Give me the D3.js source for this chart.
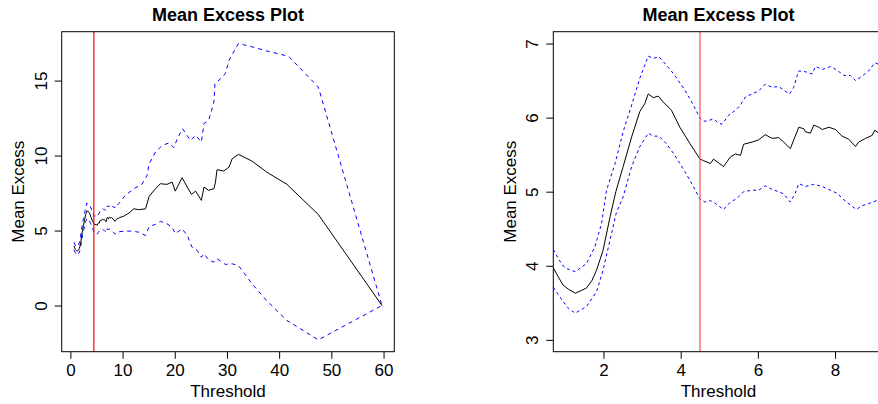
<!DOCTYPE html>
<html>
<head>
<meta charset="utf-8">
<script src="https://cdn.jsdelivr.net/npm/d3@7/dist/d3.min.js"></script>
<style>
  body { margin: 0; background: #fff; }
  svg text { font-family: "Liberation Sans", Arial, Helvetica, sans-serif; fill: #000; }
</style>
</head>
<body>
<svg id="chart" width="878" height="404"></svg>
<script>
// mean excess curve (threshold, mean excess)
const meX = [0.70,0.95,1.10,1.27,1.40,1.56,1.70,1.82,1.99,2.17,2.32,2.51,2.73,2.94,3.07,3.16,3.29,3.42,3.55,3.76,3.98,4.24,4.50,4.59,4.77,4.85,4.98,
  5.11,5.29,5.42,5.55,5.63,5.85,6.02,6.19,6.37,6.54,6.67,6.84,6.93,7.06,7.19,7.23,7.36,7.45,7.58,7.67,7.84,8.01,8.18,8.35,8.53,8.61,8.79,8.96,9.03,9.13,9.30,
  10.2,11.2,12.15,13.1,14.4,15.1,16.3,17.25,18.5,19.5,20.1,21.4,22.4,23.2,24.0,25.1,25.6,26.5,27.5,27.8,28.1,29.4,30.4,31.0,32.2,34.8,37.6,41.5,47.5,59.7];
const meY = [3.97,3.74,3.68,3.63,3.66,3.70,3.80,3.94,4.21,4.66,5.00,5.34,5.74,6.08,6.19,6.32,6.27,6.29,6.21,6.10,5.87,5.65,5.44,5.42,5.38,5.44,5.39,
  5.34,5.47,5.51,5.49,5.64,5.67,5.70,5.77,5.72,5.73,5.67,5.58,5.70,5.87,5.85,5.81,5.79,5.90,5.87,5.84,5.87,5.84,5.75,5.71,5.61,5.67,5.72,5.76,5.83,5.79,5.85,
  5.95,6.16,6.45,6.39,6.45,7.28,7.79,8.12,8.08,8.23,7.63,8.52,7.90,7.41,7.63,7.01,7.90,7.68,7.79,8.23,9.06,8.97,9.23,9.79,10.08,9.63,8.90,8.08,6.07,0.00];

// upper confidence band
const upX = [0.70,0.85,1.00,1.27,1.56,1.78,1.95,2.08,2.30,2.51,2.73,2.94,3.16,3.29,3.44,3.63,3.85,4.11,4.33,4.50,4.63,4.85,4.95,
  5.07,5.24,5.42,5.55,5.68,5.85,6.02,6.19,6.37,6.54,6.67,6.82,6.93,7.02,7.06,7.23,7.41,7.49,7.67,7.88,8.05,8.23,8.40,8.53,8.70,8.87,9.03,9.13,9.30,
  10.5,12.15,13.7,14.7,15.1,16.3,17.6,18.9,19.8,20.5,21.5,23.0,24.0,25.1,25.6,26.5,27.5,27.7,28.8,29.7,30.4,32.2,34.4,37.6,41.8,47.5,59.7];
const upY = [4.22,4.08,3.97,3.92,4.03,4.26,4.57,5.02,5.38,5.81,6.17,6.53,6.83,6.80,6.82,6.71,6.57,6.37,6.17,5.99,5.95,5.98,5.94,
  5.91,6.03,6.10,6.17,6.28,6.32,6.36,6.45,6.41,6.42,6.37,6.32,6.41,6.57,6.63,6.62,6.59,6.69,6.65,6.69,6.64,6.57,6.57,6.50,6.56,6.63,6.74,6.72,6.80,
  7.34,7.79,8.08,8.68,9.46,10.23,10.68,10.84,10.53,11.13,11.79,11.01,11.35,10.90,12.13,12.35,13.57,14.80,15.13,15.47,16.36,17.47,17.29,16.98,16.62,14.57,0.00];

// lower confidence band
const loX = [0.70,0.95,1.10,1.27,1.56,1.82,1.99,2.17,2.33,2.51,2.73,2.94,3.16,3.29,3.44,3.63,3.85,4.11,4.33,4.50,4.63,4.77,4.90,
  5.11,5.29,5.46,5.63,5.85,6.02,6.19,6.37,6.54,6.67,6.84,6.97,7.06,7.23,7.45,7.67,7.88,8.05,8.23,8.40,8.55,8.70,8.87,9.13,9.30,
  10.5,11.8,13.1,14.4,15.1,16.3,17.25,18.5,19.5,20.1,21.4,22.4,23.3,24.3,25.1,25.6,26.5,27.5,28.1,29.7,31.0,32.2,34.8,37.6,41.5,47.5,59.7];
const loY = [3.71,3.52,3.42,3.36,3.45,3.65,3.94,4.35,4.71,4.93,5.34,5.61,5.79,5.75,5.75,5.65,5.49,5.27,5.07,4.90,4.86,4.88,4.84,
  4.76,4.86,4.91,5.00,5.02,5.02,5.08,5.03,5.00,4.97,4.86,4.98,5.11,5.07,5.10,5.07,5.02,4.98,4.89,4.82,4.76,4.81,4.84,4.89,4.92,
  4.96,4.96,4.89,4.67,5.27,5.41,5.61,5.45,5.23,4.79,5.12,4.67,3.89,3.67,3.22,3.45,3.05,2.89,3.12,2.74,2.78,2.67,1.45,0.33,-1.00,-2.29,0.00];

const threshold = 4.5;

const leftXTicks = [0, 10, 20, 30, 40, 50, 60];
const leftYTicks = [0, 5, 10, 15];
const rightXTicks = [2, 4, 6, 8];
const rightYTicks = [3, 4, 5, 6, 7];

const svg = d3.select('#chart');

// R style: pad the data range by 4% on each side
function pad(ext) {
  const d = (ext[1] - ext[0]) * 0.04;
  return [ext[0] - d, ext[1] + d];
}

function drawPanel(opt) {
  const x = d3.scaleLinear().domain(opt.xDomain).range([opt.left, opt.right]);
  const y = d3.scaleLinear().domain(opt.yDomain).range([opt.bottom, opt.top]);

  const g = svg.append('g');

  svg.append('clipPath').attr('id', opt.id)
    .append('rect')
    .attr('x', opt.left).attr('y', opt.top)
    .attr('width', opt.right - opt.left).attr('height', opt.bottom - opt.top);

  const plot = g.append('g').attr('clip-path', 'url(#' + opt.id + ')');

  const line = d3.line().x(d => x(d[0])).y(d => y(d[1]));

  plot.append('path')
    .datum(d3.zip(upX, upY))
    .attr('d', line)
    .attr('fill', 'none').attr('stroke', '#0000ff').attr('stroke-width', 1)
    .attr('stroke-dasharray', opt.dash);

  plot.append('path')
    .datum(d3.zip(loX, loY))
    .attr('d', line)
    .attr('fill', 'none').attr('stroke', '#0000ff').attr('stroke-width', 1)
    .attr('stroke-dasharray', opt.dash);

  plot.append('path')
    .datum(d3.zip(meX, meY))
    .attr('d', line)
    .attr('fill', 'none').attr('stroke', '#000').attr('stroke-width', 1);

  plot.append('line')
    .attr('x1', x(threshold)).attr('x2', x(threshold))
    .attr('y1', opt.top).attr('y2', opt.bottom)
    .attr('stroke', opt.red).attr('stroke-width', 1.2);

  // box
  g.append('rect')
    .attr('x', opt.left).attr('y', opt.top)
    .attr('width', opt.right - opt.left).attr('height', opt.bottom - opt.top)
    .attr('fill', 'none').attr('stroke', '#000').attr('stroke-width', 1);

  // axes
  const xAxis = g.append('g')
    .attr('transform', 'translate(0,' + opt.bottom + ')')
    .call(d3.axisBottom(x).tickValues(opt.xTicks).tickSize(7).tickPadding(5).tickFormat(d3.format('d')));
  xAxis.select('.domain').remove();
  xAxis.selectAll('text').style('font-size', '17px');

  const yAxis = g.append('g')
    .attr('transform', 'translate(' + opt.left + ',0)')
    .call(d3.axisLeft(y).tickValues(opt.yTicks).tickSize(7).tickFormat(d3.format('d')));
  yAxis.select('.domain').remove();
  yAxis.selectAll('text')
    .attr('x', null).attr('dy', '0.35em')
    .attr('transform', 'translate(-21,0) rotate(-90)')
    .attr('text-anchor', 'middle')
    .style('font-size', '17px');

  const cx = (opt.left + opt.right) / 2;
  const cy = (opt.top + opt.bottom) / 2;

  g.append('text')
    .attr('x', cx).attr('y', 20.5)
    .attr('text-anchor', 'middle')
    .style('font-size', '18px').style('font-weight', 'bold')
    .text('Mean Excess Plot');

  g.append('text')
    .attr('x', cx).attr('y', 396.5)
    .attr('text-anchor', 'middle')
    .style('font-size', '17px')
    .text('Threshold');

  g.append('text')
    .attr('transform', 'translate(' + (opt.left - 43.4) + ',' + cy + ') rotate(-90)')
    .attr('dy', '0.35em')
    .attr('text-anchor', 'middle')
    .style('font-size', '17px')
    .text('Mean Excess');
}

drawPanel({
  id: 'clipLeft',
  left: 61.7, right: 394.3, top: 31.7, bottom: 351.7,
  xDomain: pad(d3.extent(meX)),
  yDomain: pad([d3.min(loY), d3.max(upY)]),
  xTicks: leftXTicks, yTicks: leftYTicks,
  dash: '4,4', red: '#ff0000'
});

drawPanel({
  id: 'clipRight',
  left: 553.3, right: 883.7, top: 31.7, bottom: 351.7,
  xDomain: [0.7, 9.26],
  yDomain: pad([3, 7]),
  xTicks: rightXTicks, yTicks: rightYTicks,
  dash: '3,3', red: '#ff4d4d'
});
</script>
</body>
</html>
